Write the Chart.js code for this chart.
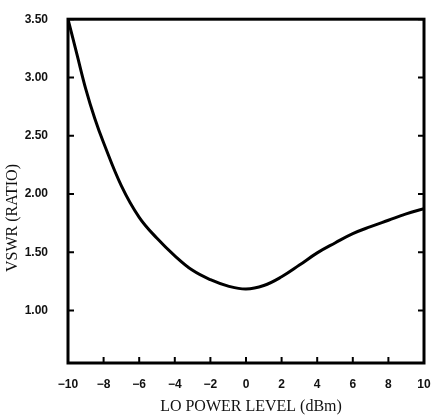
<!DOCTYPE html>
<html>
<head>
<meta charset="utf-8">
<script src="https://cdn.jsdelivr.net/npm/chart.js@4"></script>
<style>
  html, body { margin: 0; padding: 0; background: #fff; }
  #wrap { width: 437px; height: 418px; }
</style>
</head>
<body>
<div id="wrap"><canvas id="vswrChart" width="437" height="418"></canvas></div>
<script>
const powerLevels = [-10, -9.5, -9, -8.5, -8, -7, -6, -5, -4, -3, -2, -1, 0, 1, 2, 3, 4, 5, 6, 7, 8, 9, 10];
const vswrValues = [3.50, 3.20, 2.90, 2.65, 2.44, 2.07, 1.80, 1.62, 1.47, 1.345, 1.265, 1.21, 1.185, 1.215, 1.29, 1.39, 1.495, 1.58, 1.66, 1.72, 1.775, 1.83, 1.875];

const xTicks = [-10, -8, -6, -4, -2, 0, 2, 4, 6, 8, 10];
const yTicks = [1.0, 1.5, 2.0, 2.5, 3.0, 3.5];

const tickFont = { family: "'Liberation Sans', Arial, sans-serif", size: 12, weight: "bold" };
const titleFont = "16px 'Liberation Serif', 'Times New Roman', serif";

// inward tick marks + frame + axis titles
const framePlugin = {
  id: "frame",
  afterDraw(chart) {
    const { ctx, chartArea: a, scales } = chart;
    ctx.save();
    ctx.strokeStyle = "#000";
    ctx.lineWidth = 2;
    yTicks.forEach(v => {
      const py = scales.y.getPixelForValue(v);
      ctx.beginPath();
      ctx.moveTo(a.left, py); ctx.lineTo(a.left + 6, py);
      ctx.moveTo(a.right, py); ctx.lineTo(a.right - 6, py);
      ctx.stroke();
    });
    xTicks.forEach(v => {
      const px = scales.x.getPixelForValue(v);
      ctx.beginPath();
      ctx.moveTo(px, a.bottom); ctx.lineTo(px, a.bottom - 6);
      ctx.stroke();
    });
    ctx.lineWidth = 3;
    ctx.strokeRect(a.left, a.top, a.right - a.left, a.bottom - a.top);

    ctx.fillStyle = "#111";
    ctx.font = titleFont;
    ctx.textAlign = "center";
    ctx.textBaseline = "middle";
    ctx.translate(13, 218);
    ctx.rotate(-Math.PI / 2);
    ctx.fillText("VSWR (RATIO)", 0, 0);
    ctx.restore();

    ctx.save();
    ctx.fillStyle = "#111";
    ctx.font = titleFont;
    ctx.textAlign = "center";
    ctx.textBaseline = "middle";
    ctx.fillText("LO POWER LEVEL (dBm)", 251, 407);
    ctx.restore();
  }
};

new Chart(document.getElementById("vswrChart").getContext("2d"), {
  type: "line",
  data: {
    datasets: [{
      data: powerLevels.map((x, i) => ({ x, y: vswrValues[i] })),
      borderColor: "#000",
      borderWidth: 3,
      pointRadius: 0,
      tension: 0.4,
      fill: false
    }]
  },
  options: {
    responsive: false,
    animation: false,
    layout: { padding: { top: 8, left: 0, right: 0, bottom: 0 } },
    plugins: { legend: { display: false }, tooltip: { enabled: false } },
    scales: {
      x: {
        type: "linear",
        min: -10,
        max: 10,
        afterBuildTicks: s => { s.ticks = xTicks.map(v => ({ value: v })); },
        afterFit: s => { s.height = 55; },
        grid: { display: false },
        border: { display: false },
        ticks: {
          color: "#111",
          font: tickFont,
          padding: 6,
          maxRotation: 0,
          callback: v => (v < 0 ? "\u2212" + Math.abs(v) : String(v))
        }
      },
      y: {
        min: 0.55,
        max: 3.5,
        afterBuildTicks: s => { s.ticks = yTicks.map(v => ({ value: v })); },
        afterFit: s => { s.width = 68; },
        grid: { display: false },
        border: { display: false },
        ticks: {
          color: "#111",
          font: tickFont,
          padding: 12,
          callback: v => Number(v).toFixed(2)
        }
      },
      y2: {
        position: "right",
        min: 0.55,
        max: 3.5,
        afterFit: s => { s.width = 13; },
        grid: { display: false },
        border: { display: false },
        ticks: { display: false }
      }
    }
  },
  plugins: [framePlugin]
});
</script>
</body>
</html>
